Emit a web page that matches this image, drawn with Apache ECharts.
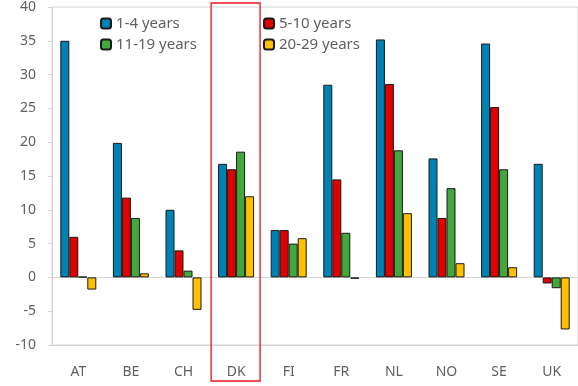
<!DOCTYPE html>
<html><head><meta charset="utf-8">
<script src="https://cdn.jsdelivr.net/npm/echarts@6/dist/echarts.min.js"></script>
<style>html,body{margin:0;padding:0;background:#fff}#c{width:578px;height:386px}</style>
</head><body><div id="c"></div>
<script>
const categories = ['AT','BE','CH','DK','FI','FR','NL','NO','SE','UK'];
const y1_4   = [35.0, 19.9, 10.0, 16.8, 7.0, 28.5, 35.2, 17.6, 34.6, 16.8];
const y5_10  = [6.0, 11.8, 4.0, 16.0, 7.0, 14.5, 28.6, 8.8, 25.2, -0.9];
const y11_19 = [0.1, 8.8, 1.0, 18.6, 5.0, 6.6, 18.8, 13.2, 16.0, -1.6];
const y20_29 = [-1.8, 0.6, -4.8, 12.0, 5.8, -0.2, 9.5, 2.1, 1.5, -7.7];
const seriesNames = ['1-4 years','5-10 years','11-19 years','20-29 years'];
const colors = ['#0081B3','#E10000','#42A83B','#FFC000'];
const highlighted = 'DK';

const font = 'Noto Sans';
const txt = '#606060';
const axisGray = '#d4d4d4';
const chart = echarts.init(document.getElementById('c'));
const values = [y1_4, y5_10, y11_19, y20_29];
const legendText = {color: txt, fontSize: 15, fontFamily: font};
const option = {
  animation: false,
  color: colors,
  grid: {left: 52, right: -1, top: 4, bottom: 41, show: true, borderColor: axisGray, borderWidth: 1, containLabel: false},
  legend: [
    {data: [seriesNames[0], seriesNames[2]], orient: 'vertical', left: 95, top: 11, itemWidth: 10, itemHeight: 10, itemGap: 6,
     textStyle: legendText},
    {data: [seriesNames[1], seriesNames[3]], orient: 'vertical', left: 258, top: 11, itemWidth: 10, itemHeight: 10, itemGap: 6,
     textStyle: legendText}
  ],
  xAxis: [
    {type: 'category', data: categories, axisLine: {onZero: true, lineStyle: {color: axisGray}},
     axisTick: {inside: true, length: 5, lineStyle: {color: axisGray}}, axisLabel: {show: false}},
    {type: 'category', data: categories, position: 'bottom', axisLine: {show: true, onZero: false, lineStyle: {color: axisGray}},
     axisTick: {show: false}, axisLabel: {color: txt, fontSize: 14, fontFamily: font, margin: 20}}
  ],
  yAxis: {type: 'value', min: -10, max: 40, interval: 5,
    axisLine: {show: true, lineStyle: {color: axisGray}}, axisTick: {show: true, length: 4, lineStyle: {color: axisGray}},
    splitLine: {show: false}, axisLabel: {color: txt, fontSize: 14, fontFamily: font, margin: 16}},
  series: seriesNames.map((n, i) => ({
    name: n, type: 'bar', xAxisIndex: 0, data: values[i], barWidth: 9, barGap: '0%',
    itemStyle: {color: colors[i], borderColor: '#1a1a1a', borderWidth: 1}
  }))
};
chart.setOption(option);
const cx = chart.convertToPixel({xAxisIndex: 0}, highlighted);
chart.setOption({graphic: [{type: 'rect', shape: {x: cx - 25, y: 3, width: 49, height: 378},
  style: {fill: 'none', stroke: '#E8141B', lineWidth: 1.3}, z: 100}]});
</script></body></html>
